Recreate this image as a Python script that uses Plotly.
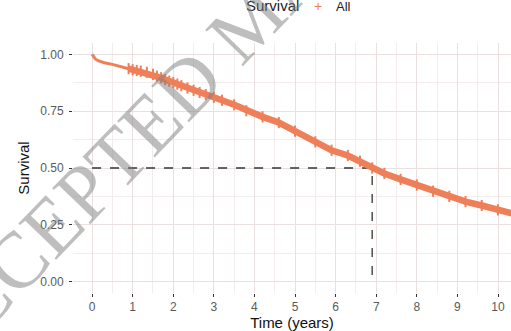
import plotly.graph_objects as go

# Kaplan-Meier estimate
time_years = [0, 0.03, 0.08, 0.15, 0.3, 0.5, 0.7, 0.8, 0.9, 1.0, 1.1, 1.2, 1.35, 1.5, 1.6, 1.7,
              1.8, 1.9, 2.0, 2.1, 2.2, 2.35, 2.5, 2.65, 2.8, 3.0, 3.2, 3.5, 3.8, 4.2, 4.6,
              5.0, 5.5, 5.9, 6.3, 6.6, 6.9, 7.2, 7.6, 8.0, 8.4, 8.8, 9.2, 9.6, 10.0, 10.4]
survival = [1.0, 0.99, 0.98, 0.972, 0.963, 0.956, 0.948, 0.943, 0.937, 0.932, 0.929, 0.926, 0.921,
            0.912, 0.904, 0.897, 0.889, 0.882, 0.876, 0.869, 0.862, 0.852, 0.842, 0.832, 0.823,
            0.811, 0.798, 0.778, 0.752, 0.725, 0.700, 0.662, 0.615, 0.578, 0.555, 0.530, 0.500,
            0.476, 0.450, 0.425, 0.398, 0.375, 0.352, 0.335, 0.316, 0.298]

median_x = [0, 6.9, 6.9]
median_y = [0.5, 0.5, 0]

x_ticks = [0, 1, 2, 3, 4, 5, 6, 7, 8, 9, 10]
y_ticks = [0.0, 0.25, 0.5, 0.75, 1.0]
y_tick_labels = ["0.00", "0.25", "0.50", "0.75", "1.00"]

curve_color = "#EE7F58"

fig = go.Figure()
fig.add_trace(go.Scatter(x=median_x, y=median_y, mode="lines",
                         line=dict(color="#333333", width=1.3, dash="dash"),
                         showlegend=False, hoverinfo="skip"))
fig.add_trace(go.Scatter(x=time_years, y=survival, mode="lines",
                         line=dict(color=curve_color, width=3),
                         showlegend=False))
fig.add_trace(go.Scatter(x=time_years[8:], y=survival[8:], mode="lines+markers",
                         line=dict(color=curve_color, width=6.5),
                         marker=dict(symbol="line-ns", size=8,
                                     line=dict(color=curve_color, width=2)),
                         showlegend=False))

grid_major = "#EAE0E0"
grid_minor = "#F3ECEC"
tick_font = dict(family="Liberation Sans", size=12, color="#5a5a5a")
fig.update_xaxes(range=[-0.47, 10.32], tickvals=x_ticks, ticks="outside", ticklen=3,
                 tickcolor="#333333", tickwidth=1.2, showgrid=True, gridcolor=grid_major,
                 gridwidth=1.2, zeroline=False, showline=False, tickfont=tick_font,
                 ticklabelstandoff=0,
                 title=dict(text="Time (years)", font=dict(family="Liberation Sans", size=15,
                                                           color="#111111"), standoff=5),
                 minor=dict(dtick=0.5, showgrid=True, gridcolor=grid_minor, gridwidth=0.8))
fig.update_yaxes(range=[-0.05, 1.05], tickvals=y_ticks, ticktext=y_tick_labels,
                 ticks="outside", ticklen=3, tickcolor="#333333", tickwidth=1.2,
                 showgrid=True, gridcolor=grid_major, gridwidth=1.2, zeroline=False,
                 showline=False, tickfont=tick_font, ticklabelstandoff=3,
                 title=dict(text="Survival", font=dict(family="Liberation Sans", size=15,
                                                       color="#111111"), standoff=6),
                 minor=dict(dtick=0.125, showgrid=True, gridcolor=grid_minor, gridwidth=0.8))

legend_y = (293 - 16) / 250
annotations = [
    dict(text="Survival", x=(272 - 73) / 438, y=legend_y, xref="paper", yref="paper",
         xanchor="center", yanchor="bottom", showarrow=False,
         font=dict(family="Liberation Sans", size=15, color="#222222")),
    dict(text="+", x=(318 - 73) / 438, y=legend_y, xref="paper", yref="paper",
         xanchor="center", yanchor="bottom", showarrow=False,
         font=dict(family="Liberation Sans", size=14, color=curve_color)),
    dict(text="All", x=(343 - 73) / 438, y=legend_y, xref="paper", yref="paper",
         xanchor="center", yanchor="bottom", showarrow=False,
         font=dict(family="Liberation Sans", size=13, color="#222222")),
    dict(text="ACCEPTED MANUSCRIPT", x=(250 - 73) / 438, y=(293 - 20) / 250,
         xref="paper", yref="paper", xanchor="center", yanchor="middle",
         showarrow=False, textangle=-46,
         font=dict(family="Liberation Serif", size=80, color="rgba(125,125,125,0.5)")),
]

fig.update_layout(width=511, height=331, margin=dict(l=73, r=0, t=43, b=38),
                  plot_bgcolor="white", paper_bgcolor="white", showlegend=False,
                  annotations=annotations)

fig.write_html("out.html")
